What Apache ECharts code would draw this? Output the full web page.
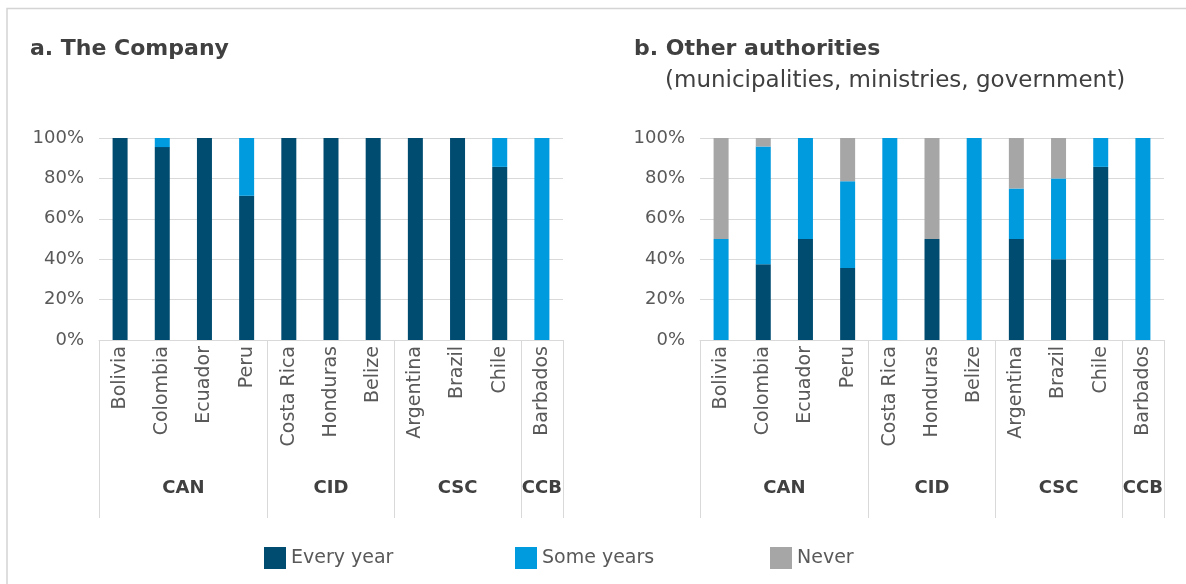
<!DOCTYPE html>
<html>
<head>
<meta charset="utf-8">
<script src="https://cdn.jsdelivr.net/npm/echarts@6/dist/echarts.min.js"></script>
<style>
html,body{margin:0;padding:0;background:#fff;}
#chart{width:1186px;height:584px;}
</style>
</head>
<body>
<div id="chart"></div>
<script>
// ---- data ----
const countries = ['Bolivia','Colombia','Ecuador','Peru','Costa Rica','Honduras','Belize','Argentina','Brazil','Chile','Barbados'];
const groupNames = ['CAN','CID','CSC','CCB'];
const groupSizes = [4, 3, 3, 1];
const yTicks = [0, 20, 40, 60, 80, 100];

const companyEvery = [100, 95.5, 100, 71.4, 100, 100, 100, 100, 100, 85.7, 0];
const companySome  = [0, 4.5, 0, 28.6, 0, 0, 0, 0, 0, 14.3, 100];

const otherEvery = [0, 37.5, 50, 35.7, 0, 50, 0, 50, 40, 85.7, 0];
const otherSome  = [50, 58.3, 50, 42.9, 100, 0, 100, 25, 40, 14.3, 100];
const otherNever = [50, 4.2, 0, 21.4, 0, 50, 0, 25, 20, 0, 0];

const seriesNames = ['Every year', 'Some years', 'Never'];
const colors = ['#004C71', '#009ADE', '#A6A6A6'];

// ---- derived group boundaries / centers ----
const bounds = [0];
groupSizes.forEach(n => bounds.push(bounds[bounds.length - 1] + n));
const centers = groupNames.map((_, i) => (bounds[i] + bounds[i + 1]) / 2);

const FONT = 'DejaVu Sans';
const chart = echarts.init(document.getElementById('chart'));

function catAxis(gi) {
  return {
    type: 'category', gridIndex: gi, data: countries, position: 'bottom',
    axisLine: { show: true, lineStyle: { color: '#d9d9d9', width: 1 } },
    axisTick: { show: false },
    axisLabel: { rotate: 90, fontSize: 19, color: '#595959', fontFamily: FONT, margin: 6, interval: 0 }
  };
}
function groupAxis(gi) {
  return {
    type: 'value', gridIndex: gi, min: 0, max: countries.length, position: 'bottom',
    axisLine: { show: false },
    splitLine: { show: false },
    axisTick: { show: true, customValues: bounds, length: 178, lineStyle: { color: '#d9d9d9', width: 1 } },
    axisLabel: {
      customValues: centers, margin: 139, fontSize: 18, fontWeight: 'bold', color: '#404040', fontFamily: FONT,
      formatter: v => { const i = centers.findIndex(c => Math.abs(c - v) < 1e-6); return i >= 0 ? groupNames[i] : ''; }
    }
  };
}
function valAxis(gi) {
  return {
    type: 'value', gridIndex: gi, min: yTicks[0], max: yTicks[yTicks.length - 1], interval: 20,
    axisLine: { show: false }, axisTick: { show: false },
    splitLine: { lineStyle: { color: '#d9d9d9', width: 1 } },
    axisLabel: { formatter: '{value}%', fontSize: 18, color: '#595959', fontFamily: FONT, margin: 15, padding: [0, 0, 5, 0] }
  };
}
function bar(name, gi, data, stack) {
  const idx = seriesNames.indexOf(name);
  return {
    name, type: 'bar', stack, xAxisIndex: gi * 2, yAxisIndex: gi, data,
    barWidth: 15, itemStyle: { color: colors[idx] }
  };
}
function legend(name, left) {
  return {
    data: [name], left, top: 542, icon: 'rect', itemWidth: 22, itemHeight: 22,
    textStyle: { fontSize: 19, color: '#595959', fontFamily: FONT }
  };
}

chart.setOption({
  animation: false,
  backgroundColor: '#fff',
  textStyle: { fontFamily: FONT },
  title: [
    { text: 'a. The Company', left: 25, top: 33, textStyle: { fontSize: 22, fontWeight: 'bold', color: '#404040', fontFamily: FONT } },
    { text: 'b. Other authorities', left: 629, top: 33, textStyle: { fontSize: 22, fontWeight: 'bold', color: '#404040', fontFamily: FONT } },
    { text: '(municipalities, ministries, government)', left: 660, top: 65, textStyle: { fontSize: 23, fontWeight: 'normal', color: '#404040', fontFamily: FONT } }
  ],
  legend: [legend('Every year', 259), legend('Some years', 510), legend('Never', 765)],
  grid: [
    { left: 99, width: 464, top: 138, height: 202 },
    { left: 700, width: 464, top: 138, height: 202 }
  ],
  xAxis: [catAxis(0), groupAxis(0), catAxis(1), groupAxis(1)],
  yAxis: [valAxis(0), valAxis(1)],
  series: [
    bar('Every year', 0, companyEvery, 'a'),
    bar('Some years', 0, companySome, 'a'),
    bar('Every year', 1, otherEvery, 'b'),
    bar('Some years', 1, otherSome, 'b'),
    bar('Never', 1, otherNever, 'b')
  ],
  graphic: [{
    type: 'rect', silent: true, z: -1,
    shape: { x: 7, y: 8.5, width: 1300, height: 700 },
    style: { fill: 'none', stroke: '#d4d4d4', lineWidth: 1.5 }
  }]
});
</script>
</body>
</html>
